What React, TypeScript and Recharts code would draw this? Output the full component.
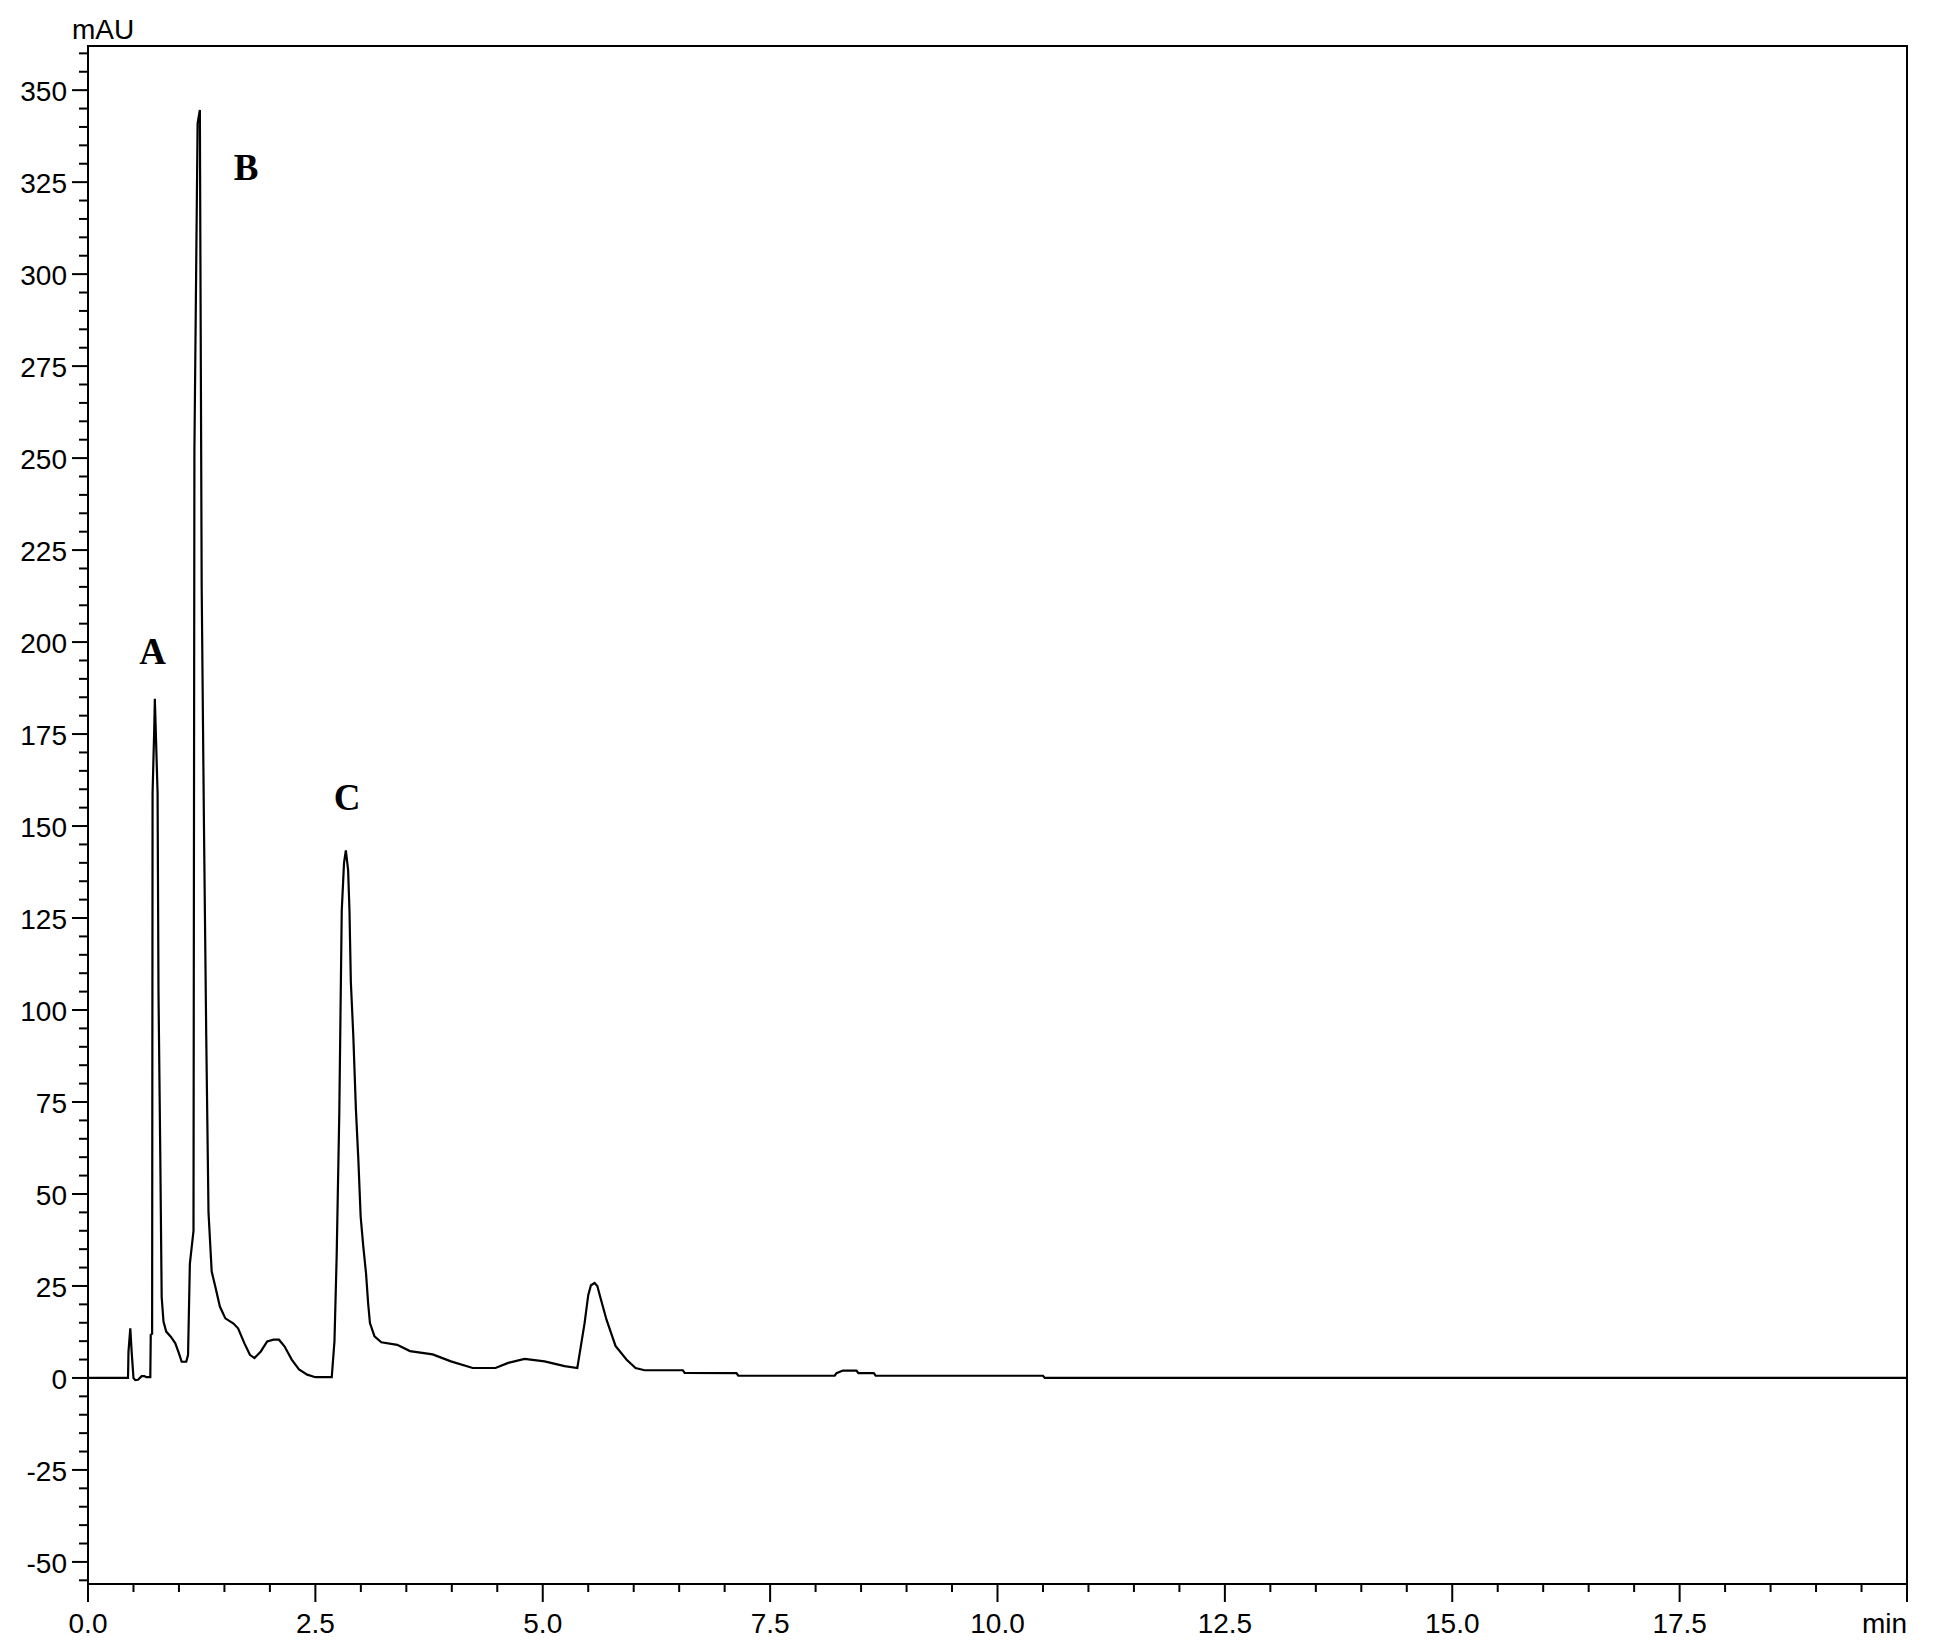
import React from 'react';
import { LineChart, Line, XAxis, YAxis, ReferenceArea, ReferenceDot } from 'recharts';

// retention time (min) and absorbance (mAU)
const times = [
  0, 0.44, 0.445, 0.465, 0.48, 0.5, 0.52, 0.55, 0.59, 0.62, 0.64, 0.685, 0.69, 0.705,
  0.71, 0.728, 0.735, 0.745, 0.765, 0.775, 0.795, 0.81, 0.83, 0.86, 0.91, 0.96, 1.0,
  1.03, 1.08, 1.1, 1.12, 1.16, 1.17, 1.205, 1.23, 1.235, 1.25, 1.275, 1.3, 1.325, 1.36,
  1.4, 1.45, 1.51, 1.6, 1.65, 1.72, 1.78, 1.83, 1.9, 1.97, 2.04, 2.1, 2.16, 2.24, 2.32,
  2.41, 2.5, 2.68, 2.71, 2.734, 2.763, 2.79, 2.815, 2.835, 2.86, 2.875, 2.89, 2.917,
  2.946, 2.972, 2.998, 3.027, 3.057, 3.08, 3.1, 3.15, 3.225, 3.4, 3.54, 3.79, 3.99,
  4.23, 4.48, 4.62, 4.8, 5.02, 5.24, 5.38, 5.41, 5.46, 5.5, 5.53, 5.57, 5.6, 5.63, 5.7,
  5.8, 5.92, 6.02, 6.12, 6.54, 6.56, 7.13, 7.15, 8.21, 8.23, 8.3, 8.45, 8.47, 8.64, 8.66,
  10.5, 10.52, 20,
];
const signal = [
  0, 0, 7.1, 13.5, 7.1, 0, -0.6, -0.5, 0.5, 0.5, 0.2, 0.2, 11.7, 12,
  159, 176, 184.6, 176, 159, 105, 60, 22, 15.3, 12.6, 11.2, 9.4, 6.7,
  4.4, 4.4, 6.2, 31, 40, 252, 341, 344.6, 311, 215, 150, 93, 45, 28.9,
  24.8, 19.4, 16.2, 14.8, 13.5, 9.4, 6.3, 5.4, 7.2, 9.9, 10.4, 10.4, 8.6, 5.0, 2.3,
  0.9, 0.2, 0.2, 10, 33, 72, 127, 140, 143.4, 138, 127, 107.6, 93,
  72.8, 59.6, 43.8, 35.7, 28.4, 20.3, 14.9, 11.3, 9.7, 9.0, 7.3, 6.4, 4.5,
  2.7, 2.7, 4.1, 5.2, 4.5, 3.2, 2.7, 7.3, 14.9, 22.5, 25.2, 25.8, 25.0, 22.2, 15.9,
  8.7, 5.0, 2.7, 2.1, 2.1, 1.4, 1.3, 0.6, 0.6, 1.3, 2.0, 2.0, 1.3, 1.3, 0.6,
  0.6, 0, 0,
];

const xMajorTicks = [0, 2.5, 5, 7.5, 10, 12.5, 15, 17.5, 20];
const xMajorLabels = ['0.0', '2.5', '5.0', '7.5', '10.0', '12.5', '15.0', '17.5', 'min'];
const yMajorTicks = [-50, -25, 0, 25, 50, 75, 100, 125, 150, 175, 200, 225, 250, 275, 300, 325, 350];

const peakNames = ['A', 'B', 'C'];
const peakTimes = [0.711, 1.737, 2.848];
const peakHeights = [194, 325.6, 154.4];

const X_DOMAIN = [0, 20];
const Y_DOMAIN = [-56, 362];
const xTicks = Array.from({ length: 41 }, (_, i) => i * 0.5);
const yTicks = Array.from({ length: 84 }, (_, i) => -55 + i * 5);

const data = times.map((t, i) => ({ t, v: signal[i] }));

const sans = '"Liberation Sans", Arial, sans-serif';
const serif = '"Liberation Serif", "Times New Roman", serif';

const XTick = (props: any) => {
  const { x, y, payload } = props;
  const idx = xMajorTicks.indexOf(payload.value);
  const major = idx >= 0;
  const last = idx === xMajorTicks.length - 1;
  return (
    <g>
      <line x1={x} y1={y} x2={x} y2={y + (major ? 18 : 8)} stroke="#000" strokeWidth={2} />
      {major && (
        <text x={x} y={y + 49} textAnchor={last ? 'end' : 'middle'} fontFamily={sans} fontSize={28} fill="#000">
          {xMajorLabels[idx]}
        </text>
      )}
    </g>
  );
};

const YTick = (props: any) => {
  const { x, y, payload } = props;
  const major = yMajorTicks.includes(payload.value);
  return (
    <g>
      <line x1={x} y1={y} x2={x - (major ? 16 : 9)} y2={y} stroke="#000" strokeWidth={2} />
      {major && (
        <text x={x - 21} y={y + 11} textAnchor="end" fontFamily={sans} fontSize={28} fill="#000">
          {payload.value}
        </text>
      )}
    </g>
  );
};

const peakLabel = (name: string) => (props: any) => {
  const vb = props.viewBox || {};
  return (
    <text x={vb.x} y={vb.y} textAnchor="middle" fontFamily={serif} fontWeight="bold" fontSize={37} fill="#000">
      {name}
    </text>
  );
};

const unitLabel = (props: any) => {
  const vb = props.viewBox || {};
  return (
    <text x={vb.x - 16} y={vb.y - 7} textAnchor="start" fontFamily={sans} fontSize={28} fill="#000">
      mAU
    </text>
  );
};

export default function App() {
  return (
    <div style={{ width: 1917, height: 1636, background: '#fff' }}>
      <LineChart width={1917} height={1636} data={data} margin={{ top: 38, right: 18, left: 0, bottom: 0 }}>
        <XAxis
          dataKey="t"
          type="number"
          domain={X_DOMAIN}
          allowDataOverflow
          ticks={xTicks}
          interval={0}
          tickSize={0}
          tickMargin={0}
          tickLine={false}
          height={60}
          axisLine={{ stroke: '#000', strokeWidth: 2 }}
          tick={XTick}
        />
        <YAxis
          type="number"
          domain={Y_DOMAIN}
          allowDataOverflow
          ticks={yTicks}
          interval={0}
          tickSize={0}
          tickMargin={0}
          tickLine={false}
          width={80}
          axisLine={{ stroke: '#000', strokeWidth: 2 }}
          tick={YTick}
        />
        <ReferenceArea
          x1={X_DOMAIN[0]}
          x2={X_DOMAIN[1]}
          y1={Y_DOMAIN[0]}
          y2={Y_DOMAIN[1]}
          fill="none"
          fillOpacity={0}
          stroke="#000"
          strokeWidth={2}
        />
        <Line
          type="linear"
          dataKey="v"
          stroke="#000"
          strokeWidth={2.2}
          dot={false}
          activeDot={false}
          isAnimationActive={false}
        />
        <ReferenceDot x={0} y={Y_DOMAIN[1]} r={0} fill="none" stroke="none" label={unitLabel} />
        {peakNames.map((n, i) => (
          <ReferenceDot key={n} x={peakTimes[i]} y={peakHeights[i]} r={0} fill="none" stroke="none" label={peakLabel(n)} />
        ))}
      </LineChart>
    </div>
  );
}
